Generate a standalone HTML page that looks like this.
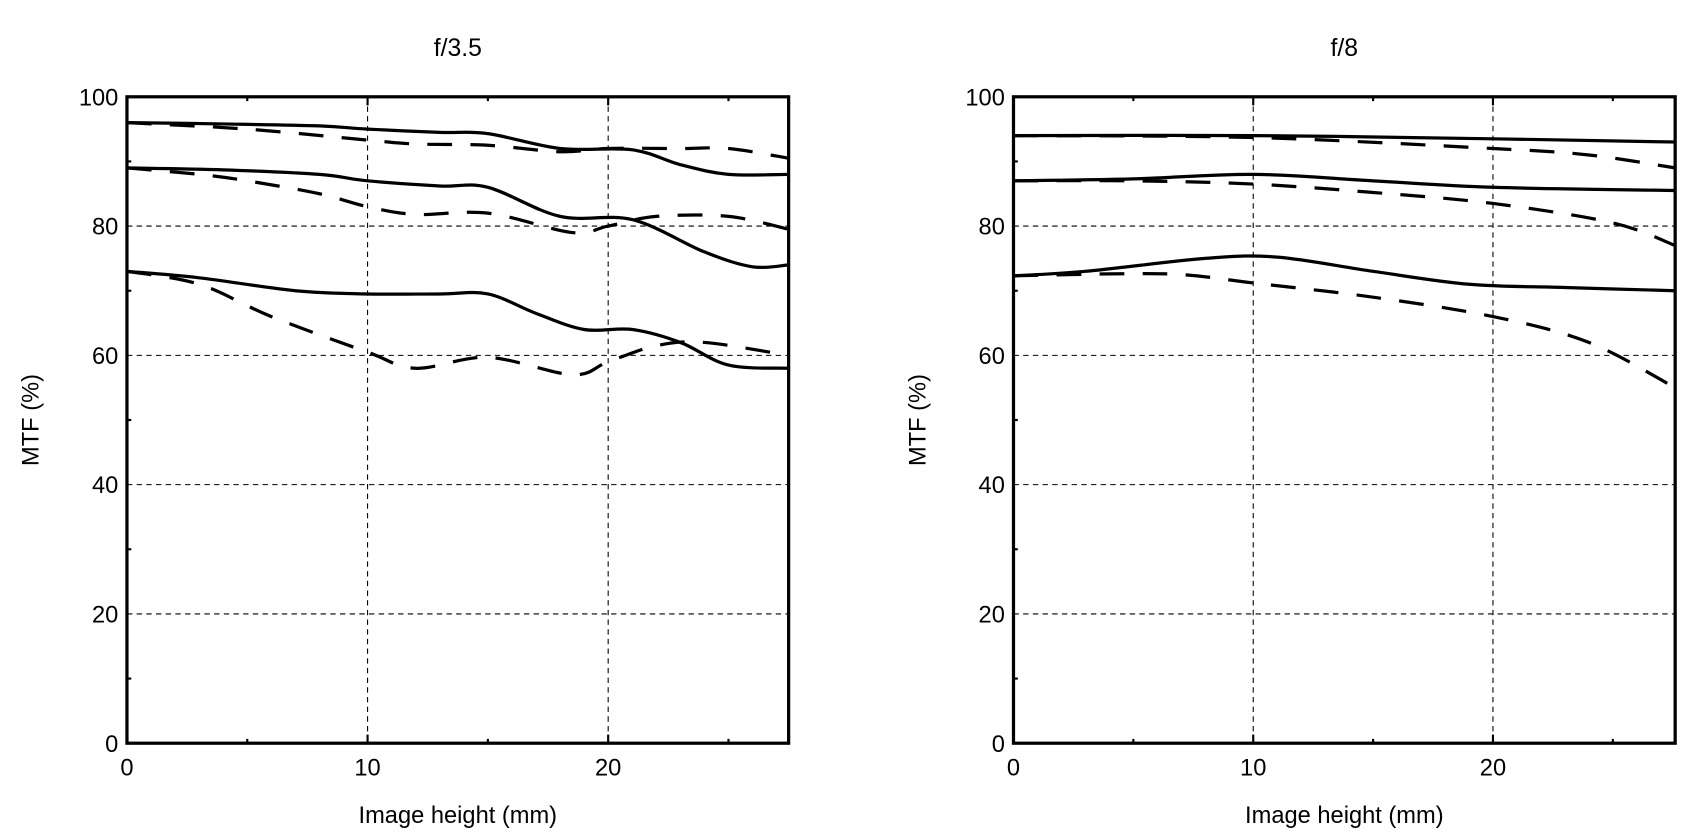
<!DOCTYPE html>
<html><head><meta charset="utf-8"><style>
body{margin:0;background:#fff;}
svg{display:block;font-family:"Liberation Sans",Arial,sans-serif;}
</style></head><body>
<svg id="chart" width="1687" height="840" viewBox="0 0 1568 781" preserveAspectRatio="none" xmlns="http://www.w3.org/2000/svg"></svg>
<script>
// Data
const xTicks = [0, 10, 20];
const yTicks = [0, 20, 40, 60, 80, 100];
const panelTitles = ["f/3.5", "f/8"];
// f/3.5 panel series (x mm, y %)
const a_topSolidX = [0, 4, 8, 10, 13, 15, 18, 21, 23, 25, 27.5];
const a_topSolidY = [96, 95.8, 95.5, 95, 94.5, 94.3, 92, 91.8, 89.5, 88, 88];
const a_topDashX = [0, 5, 10, 12, 15, 18, 20, 23, 25, 27.5];
const a_topDashY = [96, 95, 93.3, 92.7, 92.5, 91.5, 92, 92, 92, 90.5];
const a_midSolidX = [0, 4, 8, 10, 13, 15, 18, 21, 24, 26, 27.5];
const a_midSolidY = [89, 88.7, 88, 87, 86.2, 86, 81.5, 81, 76, 73.7, 74];
const a_midDashX = [0, 3, 5, 8, 10, 12, 15, 18.5, 20, 22, 25, 27.5];
const a_midDashY = [89, 88, 87, 85, 83, 81.8, 82, 79, 80, 81.5, 81.5, 79.5];
const a_lowSolidX = [0, 3, 7, 10, 13, 15, 17, 19, 21, 23, 25, 27.5];
const a_lowSolidY = [73, 72, 70, 69.5, 69.5, 69.5, 66.5, 64, 64, 62, 58.5, 58];
const a_lowDashX = [0, 3, 6, 10, 12, 15, 18.5, 20, 22, 24, 27.5];
const a_lowDashY = [73, 71, 66, 60.5, 58, 59.7, 57, 59, 61.5, 62, 60];
// f/8 panel series
const b_topSolidX = [0, 10, 20, 27.6];
const b_topSolidY = [94, 94, 93.5, 93];
const b_topDashX = [0, 10, 20, 24, 27.6];
const b_topDashY = [94, 93.7, 92, 91, 89];
const b_midSolidX = [0, 5, 10, 15, 20, 27.6];
const b_midSolidY = [87, 87.3, 88, 87, 86, 85.5];
const b_midDashX = [0, 5, 10, 15, 20, 25, 27.6];
const b_midDashY = [87, 87, 86.5, 85.2, 83.5, 80.5, 77];
const b_lowSolidX = [0, 3, 8, 11, 15, 19, 23, 27.6];
const b_lowSolidY = [72.3, 73, 75, 75.2, 73, 71, 70.5, 70];
const b_lowDashX = [0, 4, 7, 10, 15, 20, 24, 27.6];
const b_lowDashY = [72.3, 72.6, 72.5, 71.2, 69, 66, 62, 55];

const panels = [
  {left:118, right:733, xmax:27.5, series:[
    ["top-solid",a_topSolidX,a_topSolidY,false],["top-dashed",a_topDashX,a_topDashY,true],
    ["mid-solid",a_midSolidX,a_midSolidY,false],["mid-dashed",a_midDashX,a_midDashY,true],
    ["low-solid",a_lowSolidX,a_lowSolidY,false],["low-dashed",a_lowDashX,a_lowDashY,true]]},
  {left:942, right:1557, xmax:27.6, series:[
    ["top-solid",b_topSolidX,b_topSolidY,false],["top-dashed",b_topDashX,b_topDashY,true],
    ["mid-solid",b_midSolidX,b_midSolidY,false],["mid-dashed",b_midDashX,b_midDashY,true],
    ["low-solid",b_lowSolidX,b_lowSolidY,false],["low-dashed",b_lowDashX,b_lowDashY,true]]}
];
const TOP=90, BOT=691;
const NS="http://www.w3.org/2000/svg";
const svg=document.getElementById('chart');
function mk(tag, attrs, parent){const e=document.createElementNS(NS,tag);for(const k in attrs)e.setAttribute(k,attrs[k]);(parent||svg).appendChild(e);return e;}
function smooth(pts){
  let d=`M${pts[0][0]},${pts[0][1]}`;
  for(let i=0;i<pts.length-1;i++){
    const p0=pts[Math.max(0,i-1)],p1=pts[i],p2=pts[i+1],p3=pts[Math.min(pts.length-1,i+2)];
    const c1=[p1[0]+(p2[0]-p0[0])/6,p1[1]+(p2[1]-p0[1])/6];
    const c2=[p2[0]-(p3[0]-p1[0])/6,p2[1]-(p3[1]-p1[1])/6];
    d+=` C${c1[0]},${c1[1]} ${c2[0]},${c2[1]} ${p2[0]},${p2[1]}`;
  }
  return d;
}
panels.forEach((p,pi)=>{
  const g=mk('g',{});
  
  
  const sx=v=>p.left+(v/p.xmax)*(p.right-p.left);
  const sy=v=>BOT-(v/100)*(BOT-TOP);
  const t=mk('text',{x:(p.left+p.right)/2,y:52,'text-anchor':'middle','font-size':23},g);
  t.textContent=panelTitles[pi];
  
  
  yTicks.forEach(v=>{
    if(v>0&&v<100){const l=mk('line',{x1:p.left,x2:p.right,y1:sy(v),y2:sy(v),stroke:'#000','stroke-width':1,'stroke-dasharray':'5,4'},g);
    
    }
    const tx=mk('text',{x:p.left-8,y:sy(v)+8,'text-anchor':'end','font-size':22},g);
    tx.textContent=v;
    
    
  });
  xTicks.forEach(v=>{
    if(v>0){const l=mk('line',{x1:sx(v),x2:sx(v),y1:TOP,y2:BOT,stroke:'#000','stroke-width':1,'stroke-dasharray':'5,4'},g);
    
    
    mk('line',{x1:sx(v),x2:sx(v),y1:BOT,y2:BOT-8,stroke:'#000','stroke-width':2},g);
    mk('line',{x1:sx(v),x2:sx(v),y1:TOP,y2:TOP+8,stroke:'#000','stroke-width':2},g);}
    const tx=mk('text',{x:sx(v),y:BOT+30,'text-anchor':'middle','font-size':22},g);
    tx.textContent=v;
    
    
  });
  [5,15,25].forEach(v=>{mk('line',{x1:sx(v),x2:sx(v),y1:BOT,y2:BOT-4,stroke:'#000','stroke-width':2},g);mk('line',{x1:sx(v),x2:sx(v),y1:TOP,y2:TOP+4,stroke:'#000','stroke-width':2},g);});
  [10,30,50,70,90].forEach(v=>{mk('line',{x1:p.left,x2:p.left+4,y1:sy(v),y2:sy(v),stroke:'#000','stroke-width':2},g);});
  p.series.forEach(s=>{
    const pts=s[1].map((x,i)=>[sx(x),sy(s[2][i])]);
    const path=mk('path',{d:smooth(pts),fill:'none',stroke:'#000','stroke-width':3,'stroke-dasharray':s[3]?'23,17':'none'},g);
    
    
  });
  const frame=mk('rect',{x:p.left,y:TOP,width:p.right-p.left,height:BOT-TOP,fill:'none',stroke:'#000','stroke-width':3},g);
  
  
  const xl=mk('text',{x:(p.left+p.right)/2,y:765,'text-anchor':'middle','font-size':22},g);
  xl.textContent='Image height (mm)';
  
  
  const cx=p.left-82, cy=(TOP+BOT)/2;
  const yl=mk('text',{x:cx,y:cy,'text-anchor':'middle','font-size':22,transform:`rotate(-90 ${cx} ${cy})`},g);
  yl.textContent='MTF (%)';
  
  
});
</script>
</body></html>
